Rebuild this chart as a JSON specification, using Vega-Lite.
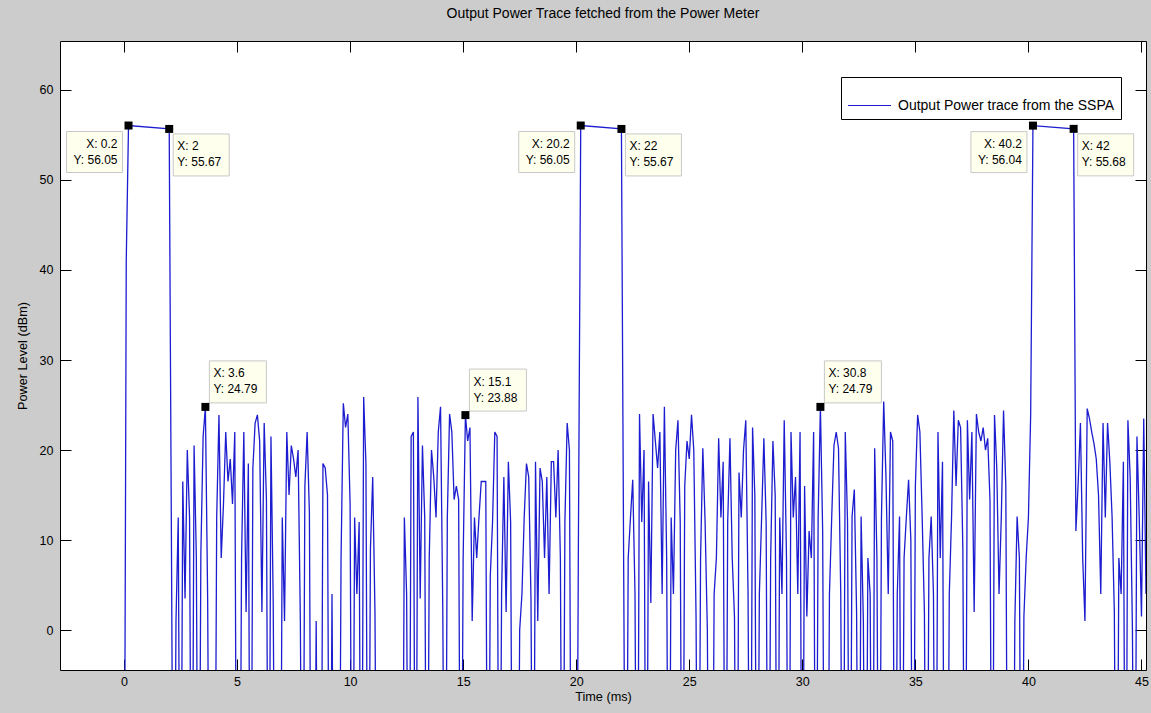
{
  "$schema": "https://vega.github.io/schema/vega-lite/v6.json",
  "width": 1086,
  "height": 629,
  "autosize": {"type": "none"},
  "padding": {"left": 60, "top": 41, "right": 5, "bottom": 43},
  "background": "#cccccc",
  "config": {
    "view": {"fill": "white", "stroke": null},
    "font": "Liberation Sans",
    "axis": {"labelFont": "Liberation Sans", "titleFont": "Liberation Sans", "labelColor": "#000", "titleColor": "#000", "domainColor": "#000", "tickColor": "#000", "grid": false, "titleFontWeight": "normal", "labelFontSize": 12.5, "titleFontSize": 12.7, "domainWidth": 1, "tickWidth": 1}
  },
  "title": {"text": "Output Power Trace fetched from the Power Meter", "fontSize": 14, "fontWeight": "normal", "color": "#000", "font": "Liberation Sans", "offset": 20, "anchor": "middle"},
  "datasets": {
    "trace": [
      {"t":0,"p":-40},{"t":0.1,"p":41},{"t":0.2,"p":56.05},{"t":2,"p":55.67},{"t":2.1,"p":9},{"t":2.2,"p":-40},
      {"t":2.3,"p":1},{"t":2.4,"p":12.5},{"t":2.5,"p":-40},{"t":2.6,"p":16.5},{"t":2.7,"p":3.5},{"t":2.8,"p":20},{"t":2.9,"p":12.5},
      {"t":3,"p":-40},{"t":3.1,"p":20.5},{"t":3.2,"p":8},{"t":3.3,"p":-40},{"t":3.4,"p":8.5},{"t":3.5,"p":21.5},{"t":3.6,"p":24.79},
      {"t":3.7,"p":3.5},{"t":3.8,"p":-40},{"t":3.9,"p":-40},{"t":4,"p":-40},{"t":4.1,"p":12.5},{"t":4.2,"p":23.9},{"t":4.3,"p":8},
      {"t":4.4,"p":14},{"t":4.5,"p":22},{"t":4.6,"p":16.5},{"t":4.7,"p":19},{"t":4.8,"p":14},{"t":4.9,"p":22},{"t":5,"p":-40},
      {"t":5.1,"p":-40},{"t":5.2,"p":8},{"t":5.3,"p":22},{"t":5.4,"p":2},{"t":5.5,"p":18.5},{"t":5.6,"p":-40},{"t":5.7,"p":18},
      {"t":5.8,"p":23},{"t":5.9,"p":23.9},{"t":6,"p":21},{"t":6.1,"p":2},{"t":6.2,"p":23},{"t":6.3,"p":14.5},{"t":6.4,"p":-40},
      {"t":6.5,"p":21.5},{"t":6.6,"p":3},{"t":6.7,"p":-40},{"t":6.8,"p":-40},{"t":6.9,"p":-40},{"t":7,"p":12.5},{"t":7.1,"p":1},
      {"t":7.2,"p":22},{"t":7.3,"p":15},{"t":7.4,"p":20.5},{"t":7.5,"p":19},{"t":7.6,"p":17},{"t":7.7,"p":20},{"t":7.8,"p":1},
      {"t":7.9,"p":-40},{"t":8,"p":16},{"t":8.1,"p":22},{"t":8.2,"p":13},{"t":8.3,"p":-40},{"t":8.4,"p":-40},{"t":8.5,"p":1},
      {"t":8.6,"p":-40},{"t":8.7,"p":-40},{"t":8.8,"p":18.5},{"t":8.9,"p":18},{"t":9,"p":15},{"t":9.1,"p":-40},{"t":9.2,"p":4},
      {"t":9.3,"p":-40},{"t":9.4,"p":-40},{"t":9.5,"p":-40},{"t":9.6,"p":8},{"t":9.7,"p":25.2},{"t":9.8,"p":22.5},{"t":9.9,"p":24},
      {"t":10,"p":14},{"t":10.1,"p":-40},{"t":10.2,"p":12.5},{"t":10.3,"p":4},{"t":10.4,"p":12},{"t":10.5,"p":-40},{"t":10.6,"p":25.9},
      {"t":10.7,"p":18.5},{"t":10.8,"p":-40},{"t":10.9,"p":9},{"t":11,"p":17},{"t":11.1,"p":2},{"t":11.2,"p":-40},{"t":11.3,"p":-40},
      {"t":11.4,"p":-40},{"t":11.5,"p":-40},{"t":11.6,"p":-40},{"t":11.7,"p":-40},{"t":11.8,"p":-40},{"t":11.9,"p":-40},{"t":12,"p":-40},
      {"t":12.1,"p":-40},{"t":12.2,"p":-40},{"t":12.3,"p":-40},{"t":12.4,"p":12.5},{"t":12.5,"p":4},{"t":12.6,"p":-40},{"t":12.7,"p":21.5},
      {"t":12.8,"p":22},{"t":12.9,"p":-40},{"t":13,"p":25.9},{"t":13.1,"p":3.5},{"t":13.2,"p":20.5},{"t":13.3,"p":12.5},{"t":13.4,"p":-40},
      {"t":13.5,"p":8},{"t":13.6,"p":20},{"t":13.7,"p":17},{"t":13.8,"p":12.5},{"t":13.9,"p":22},{"t":14,"p":24.8},{"t":14.1,"p":2},
      {"t":14.2,"p":-40},{"t":14.3,"p":12.5},{"t":14.4,"p":24},{"t":14.5,"p":22},{"t":14.6,"p":14.5},{"t":14.7,"p":16},{"t":14.8,"p":14.5},
      {"t":14.9,"p":-40},{"t":15,"p":8},{"t":15.1,"p":23.88},{"t":15.2,"p":21},{"t":15.3,"p":22.5},{"t":15.4,"p":1},{"t":15.5,"p":12.5},
      {"t":15.6,"p":8},{"t":15.7,"p":12.5},{"t":15.8,"p":16.5},{"t":15.9,"p":16.5},{"t":16,"p":16.5},{"t":16.1,"p":-40},{"t":16.2,"p":6},
      {"t":16.3,"p":12},{"t":16.4,"p":22},{"t":16.5,"p":21.5},{"t":16.6,"p":-40},{"t":16.7,"p":4},{"t":16.8,"p":17},{"t":16.9,"p":2},
      {"t":17,"p":18.7},{"t":17.1,"p":12},{"t":17.2,"p":-40},{"t":17.3,"p":-40},{"t":17.4,"p":-40},{"t":17.5,"p":0},{"t":17.6,"p":4},
      {"t":17.7,"p":12.5},{"t":17.8,"p":18.5},{"t":17.9,"p":17},{"t":18,"p":3.5},{"t":18.1,"p":-40},{"t":18.2,"p":18.7},{"t":18.3,"p":1},
      {"t":18.4,"p":18},{"t":18.5,"p":16.5},{"t":18.6,"p":8},{"t":18.7,"p":17},{"t":18.8,"p":4},{"t":18.9,"p":18.7},{"t":19,"p":18.7},
      {"t":19.1,"p":12.5},{"t":19.2,"p":20},{"t":19.3,"p":8},{"t":19.4,"p":-40},{"t":19.5,"p":12},{"t":19.6,"p":23},{"t":19.7,"p":20},
      {"t":19.8,"p":-40},{"t":19.9,"p":-40},{"t":20,"p":-40},{"t":20.1,"p":11},{"t":20.2,"p":56.05},{"t":22,"p":55.67},{"t":22.1,"p":6.7},
      {"t":22.2,"p":-40},{"t":22.3,"p":8},{"t":22.4,"p":12.5},{"t":22.5,"p":16.7},{"t":22.6,"p":4},{"t":22.7,"p":-40},{"t":22.8,"p":24},
      {"t":22.9,"p":12},{"t":23,"p":20},{"t":23.1,"p":-40},{"t":23.2,"p":16.5},{"t":23.3,"p":3},{"t":23.4,"p":24},{"t":23.5,"p":21},
      {"t":23.6,"p":18},{"t":23.7,"p":22},{"t":23.8,"p":4},{"t":23.9,"p":24.8},{"t":24,"p":8},{"t":24.1,"p":-40},{"t":24.2,"p":12.5},
      {"t":24.3,"p":4},{"t":24.4,"p":20},{"t":24.5,"p":23.3},{"t":24.6,"p":12},{"t":24.7,"p":-40},{"t":24.8,"p":16},{"t":24.9,"p":21},
      {"t":25,"p":19},{"t":25.1,"p":23.9},{"t":25.2,"p":20},{"t":25.3,"p":1.5},{"t":25.4,"p":-40},{"t":25.5,"p":8},{"t":25.6,"p":20.2},
      {"t":25.7,"p":12},{"t":25.8,"p":0},{"t":25.9,"p":-40},{"t":26,"p":-40},{"t":26.1,"p":4},{"t":26.2,"p":8},{"t":26.3,"p":21.3},
      {"t":26.4,"p":12.5},{"t":26.5,"p":18.7},{"t":26.6,"p":-40},{"t":26.7,"p":12},{"t":26.8,"p":21.3},{"t":26.9,"p":8},{"t":27,"p":1.5},
      {"t":27.1,"p":-40},{"t":27.2,"p":17.5},{"t":27.3,"p":12.5},{"t":27.4,"p":20},{"t":27.5,"p":23.3},{"t":27.6,"p":4},{"t":27.7,"p":-40},
      {"t":27.8,"p":22.5},{"t":27.9,"p":15},{"t":28,"p":-40},{"t":28.1,"p":4},{"t":28.2,"p":12.5},{"t":28.3,"p":21.3},{"t":28.4,"p":12},
      {"t":28.5,"p":-40},{"t":28.6,"p":8},{"t":28.7,"p":21},{"t":28.8,"p":15},{"t":28.9,"p":-40},{"t":29,"p":12.5},{"t":29.1,"p":4},
      {"t":29.2,"p":23.3},{"t":29.3,"p":8},{"t":29.4,"p":-40},{"t":29.5,"p":22},{"t":29.6,"p":12.5},{"t":29.7,"p":17},{"t":29.8,"p":4},
      {"t":29.9,"p":22},{"t":30,"p":-40},{"t":30.1,"p":16},{"t":30.2,"p":1.5},{"t":30.3,"p":11},{"t":30.4,"p":8},{"t":30.5,"p":22},
      {"t":30.6,"p":-40},{"t":30.7,"p":12.5},{"t":30.8,"p":24.79},{"t":30.9,"p":11},{"t":31,"p":-40},{"t":31.1,"p":-40},{"t":31.2,"p":4},
      {"t":31.3,"p":12.5},{"t":31.4,"p":20.5},{"t":31.5,"p":22},{"t":31.6,"p":20.2},{"t":31.7,"p":4},{"t":31.8,"p":-40},{"t":31.9,"p":22},
      {"t":32,"p":12},{"t":32.1,"p":-40},{"t":32.2,"p":12.6},{"t":32.3,"p":15.6},{"t":32.4,"p":2},{"t":32.5,"p":-40},{"t":32.6,"p":12.6},
      {"t":32.7,"p":1},{"t":32.8,"p":-40},{"t":32.9,"p":8},{"t":33,"p":4},{"t":33.1,"p":-40},{"t":33.2,"p":20.2},{"t":33.3,"p":8},
      {"t":33.4,"p":-40},{"t":33.5,"p":12.5},{"t":33.6,"p":25.4},{"t":33.7,"p":17},{"t":33.8,"p":4},{"t":33.9,"p":22},{"t":34,"p":21},
      {"t":34.1,"p":-40},{"t":34.2,"p":4},{"t":34.3,"p":12.6},{"t":34.4,"p":-40},{"t":34.5,"p":8},{"t":34.6,"p":12.5},{"t":34.7,"p":16.7},
      {"t":34.8,"p":10},{"t":34.9,"p":-40},{"t":35,"p":16},{"t":35.1,"p":23.9},{"t":35.2,"p":22},{"t":35.3,"p":12.6},{"t":35.4,"p":2},
      {"t":35.5,"p":-40},{"t":35.6,"p":8},{"t":35.7,"p":12.6},{"t":35.8,"p":4},{"t":35.9,"p":-40},{"t":36,"p":22},{"t":36.1,"p":8},
      {"t":36.2,"p":18.7},{"t":36.3,"p":-40},{"t":36.4,"p":-40},{"t":36.5,"p":4},{"t":36.6,"p":12.5},{"t":36.7,"p":24.4},{"t":36.8,"p":16},
      {"t":36.9,"p":23.3},{"t":37,"p":22.5},{"t":37.1,"p":9},{"t":37.2,"p":-40},{"t":37.3,"p":23.3},{"t":37.4,"p":14.5},{"t":37.5,"p":22},
      {"t":37.6,"p":2},{"t":37.7,"p":24},{"t":37.8,"p":22},{"t":37.9,"p":21},{"t":38,"p":22.5},{"t":38.1,"p":20},{"t":38.2,"p":21.3},
      {"t":38.3,"p":14.5},{"t":38.4,"p":-40},{"t":38.5,"p":23.9},{"t":38.6,"p":18},{"t":38.7,"p":4},{"t":38.8,"p":12.5},{"t":38.9,"p":24.4},
      {"t":39,"p":16},{"t":39.1,"p":-40},{"t":39.2,"p":-40},{"t":39.3,"p":-40},{"t":39.4,"p":1},{"t":39.5,"p":12.6},{"t":39.6,"p":8},
      {"t":39.7,"p":-40},{"t":39.8,"p":1.5},{"t":39.9,"p":8},{"t":40,"p":12.5},{"t":40.1,"p":24},{"t":40.2,"p":56.04},{"t":42,"p":55.68},
      {"t":42.1,"p":11},{"t":42.2,"p":16.3},{"t":42.3,"p":23},{"t":42.4,"p":8},{"t":42.5,"p":1},{"t":42.6,"p":24.6},{"t":42.7,"p":23.5},
      {"t":42.8,"p":22},{"t":42.9,"p":20.7},{"t":43,"p":19},{"t":43.1,"p":15},{"t":43.2,"p":4},{"t":43.3,"p":23},{"t":43.4,"p":12.5},
      {"t":43.5,"p":23},{"t":43.6,"p":18.7},{"t":43.7,"p":12.6},{"t":43.8,"p":2},{"t":43.9,"p":-40},{"t":44,"p":8},{"t":44.1,"p":4},
      {"t":44.2,"p":18.7},{"t":44.3,"p":-40},{"t":44.4,"p":23.3},{"t":44.5,"p":17},{"t":44.6,"p":0},{"t":44.7,"p":-40},{"t":44.8,"p":21.5},
      {"t":44.9,"p":12.5},{"t":45,"p":1.5},{"t":45.1,"p":23.5},{"t":45.2,"p":4}
    ],
    "tips": [
      {"t":0.2,"p":56.05,"label":"X: 0.2\nY: 56.05"},
      {"t":2,"p":55.67,"label":"X: 2\nY: 55.67"},
      {"t":3.6,"p":24.79,"label":"X: 3.6\nY: 24.79"},
      {"t":15.1,"p":23.88,"label":"X: 15.1\nY: 23.88"},
      {"t":20.2,"p":56.05,"label":"X: 20.2\nY: 56.05"},
      {"t":22,"p":55.67,"label":"X: 22\nY: 55.67"},
      {"t":30.8,"p":24.79,"label":"X: 30.8\nY: 24.79"},
      {"t":40.2,"p":56.04,"label":"X: 40.2\nY: 56.04"},
      {"t":42,"p":55.68,"label":"X: 42\nY: 55.68"}
    ]
  },
  "layer": [
    {
      "data": {"name": "trace"},
      "mark": {"type": "line", "clip": true, "strokeWidth": 1.3},
      "encoding": {
        "x": {"field": "t", "type": "quantitative", "scale": {"domain": [-2.83, 45.2], "nice": false, "zero": false},
          "axis": {"orient": "bottom", "title": "Time (ms)", "values": [0,5,10,15,20,25,30,35,40,45], "tickSize": -11, "labelPadding": 16, "titlePadding": 3}},
        "y": {"field": "p", "type": "quantitative", "scale": {"domain": [-4.44, 65.44], "nice": false, "zero": false},
          "axis": {"orient": "left", "title": "Power Level (dBm)", "values": [0,10,20,30,40,50,60], "tickSize": -11, "labelPadding": 18, "titlePadding": 10}},
        "color": {"datum": "Output Power trace from the SSPA", "type": "nominal", "scale": {"range": ["#1c1cd0"]},
          "legend": {"title": null, "orient": "none", "legendX": 781, "legendY": 36, "symbolType": "stroke", "symbolSize": 1849, "symbolStrokeWidth": 1.2, "labelFontSize": 14, "labelFont": "Liberation Sans", "labelColor": "#000", "labelLimit": 500, "padding": 6, "strokeColor": "#000", "fillColor": "white", "labelOffset": 6}}
      }
    },
    {
      "data": {"name": "tips"},
      "transform": [{"filter": {"field": "t", "oneOf": [0.2, 20.2, 40.2]}}],
      "mark": {"type": "point", "filled": true, "fill": "#ffffee", "stroke": "#c8c8c8", "strokeWidth": 1, "opacity": 1, "size": 4, "shape": "M-62,6H-6V47H-62Z"},
      "encoding": {"x": {"field": "t", "type": "quantitative", "axis": null}, "y": {"field": "p", "type": "quantitative", "axis": null}}
    },
    {
      "data": {"name": "tips"},
      "transform": [{"filter": {"field": "t", "oneOf": [2, 22, 42]}}],
      "mark": {"type": "point", "filled": true, "fill": "#ffffee", "stroke": "#c8c8c8", "strokeWidth": 1, "opacity": 1, "size": 4, "shape": "M4,5H60V47H4Z"},
      "encoding": {"x": {"field": "t", "type": "quantitative", "axis": null}, "y": {"field": "p", "type": "quantitative", "axis": null}}
    },
    {
      "data": {"name": "tips"},
      "transform": [{"filter": {"field": "t", "oneOf": [3.6, 15.1, 30.8]}}],
      "mark": {"type": "point", "filled": true, "fill": "#ffffee", "stroke": "#c8c8c8", "strokeWidth": 1, "opacity": 1, "size": 4, "shape": "M4,-46H61V-4H4Z"},
      "encoding": {"x": {"field": "t", "type": "quantitative", "axis": null}, "y": {"field": "p", "type": "quantitative", "axis": null}}
    },
    {
      "data": {"name": "tips"},
      "mark": {"type": "point", "filled": true, "shape": "square", "size": 64, "color": "#000", "opacity": 1},
      "encoding": {
        "x": {"field": "t", "type": "quantitative", "axis": {"orient": "top", "labels": false, "title": null, "values": [0,5,10,15,20,25,30,35,40,45], "tickSize": -11, "domain": true}},
        "y": {"field": "p", "type": "quantitative", "axis": {"orient": "right", "labels": false, "title": null, "values": [0,10,20,30,40,50,60], "tickSize": -11, "domain": true}}
      }
    },
    {
      "data": {"name": "tips"},
      "transform": [{"filter": {"field": "t", "oneOf": [0.2, 20.2, 40.2]}}],
      "mark": {"type": "text", "align": "right", "baseline": "middle", "dx": -11, "dy": 18.5, "fontSize": 12, "font": "Liberation Sans", "color": "#000", "lineBreak": "\n", "lineHeight": 16},
      "encoding": {"x": {"field": "t", "type": "quantitative", "axis": null}, "y": {"field": "p", "type": "quantitative", "axis": null}, "text": {"field": "label"}}
    },
    {
      "data": {"name": "tips"},
      "transform": [{"filter": {"field": "t", "oneOf": [2, 22, 42]}}],
      "mark": {"type": "text", "align": "left", "baseline": "middle", "dx": 8, "dy": 17, "fontSize": 12, "font": "Liberation Sans", "color": "#000", "lineBreak": "\n", "lineHeight": 16},
      "encoding": {"x": {"field": "t", "type": "quantitative", "axis": null}, "y": {"field": "p", "type": "quantitative", "axis": null}, "text": {"field": "label"}}
    },
    {
      "data": {"name": "tips"},
      "transform": [{"filter": {"field": "t", "oneOf": [3.6, 15.1, 30.8]}}],
      "mark": {"type": "text", "align": "left", "baseline": "middle", "dx": 8, "dy": -33.5, "fontSize": 12, "font": "Liberation Sans", "color": "#000", "lineBreak": "\n", "lineHeight": 16},
      "encoding": {"x": {"field": "t", "type": "quantitative", "axis": null}, "y": {"field": "p", "type": "quantitative", "axis": null}, "text": {"field": "label"}}
    }
  ],
  "resolve": {"axis": {"x": "independent", "y": "independent"}}
}
